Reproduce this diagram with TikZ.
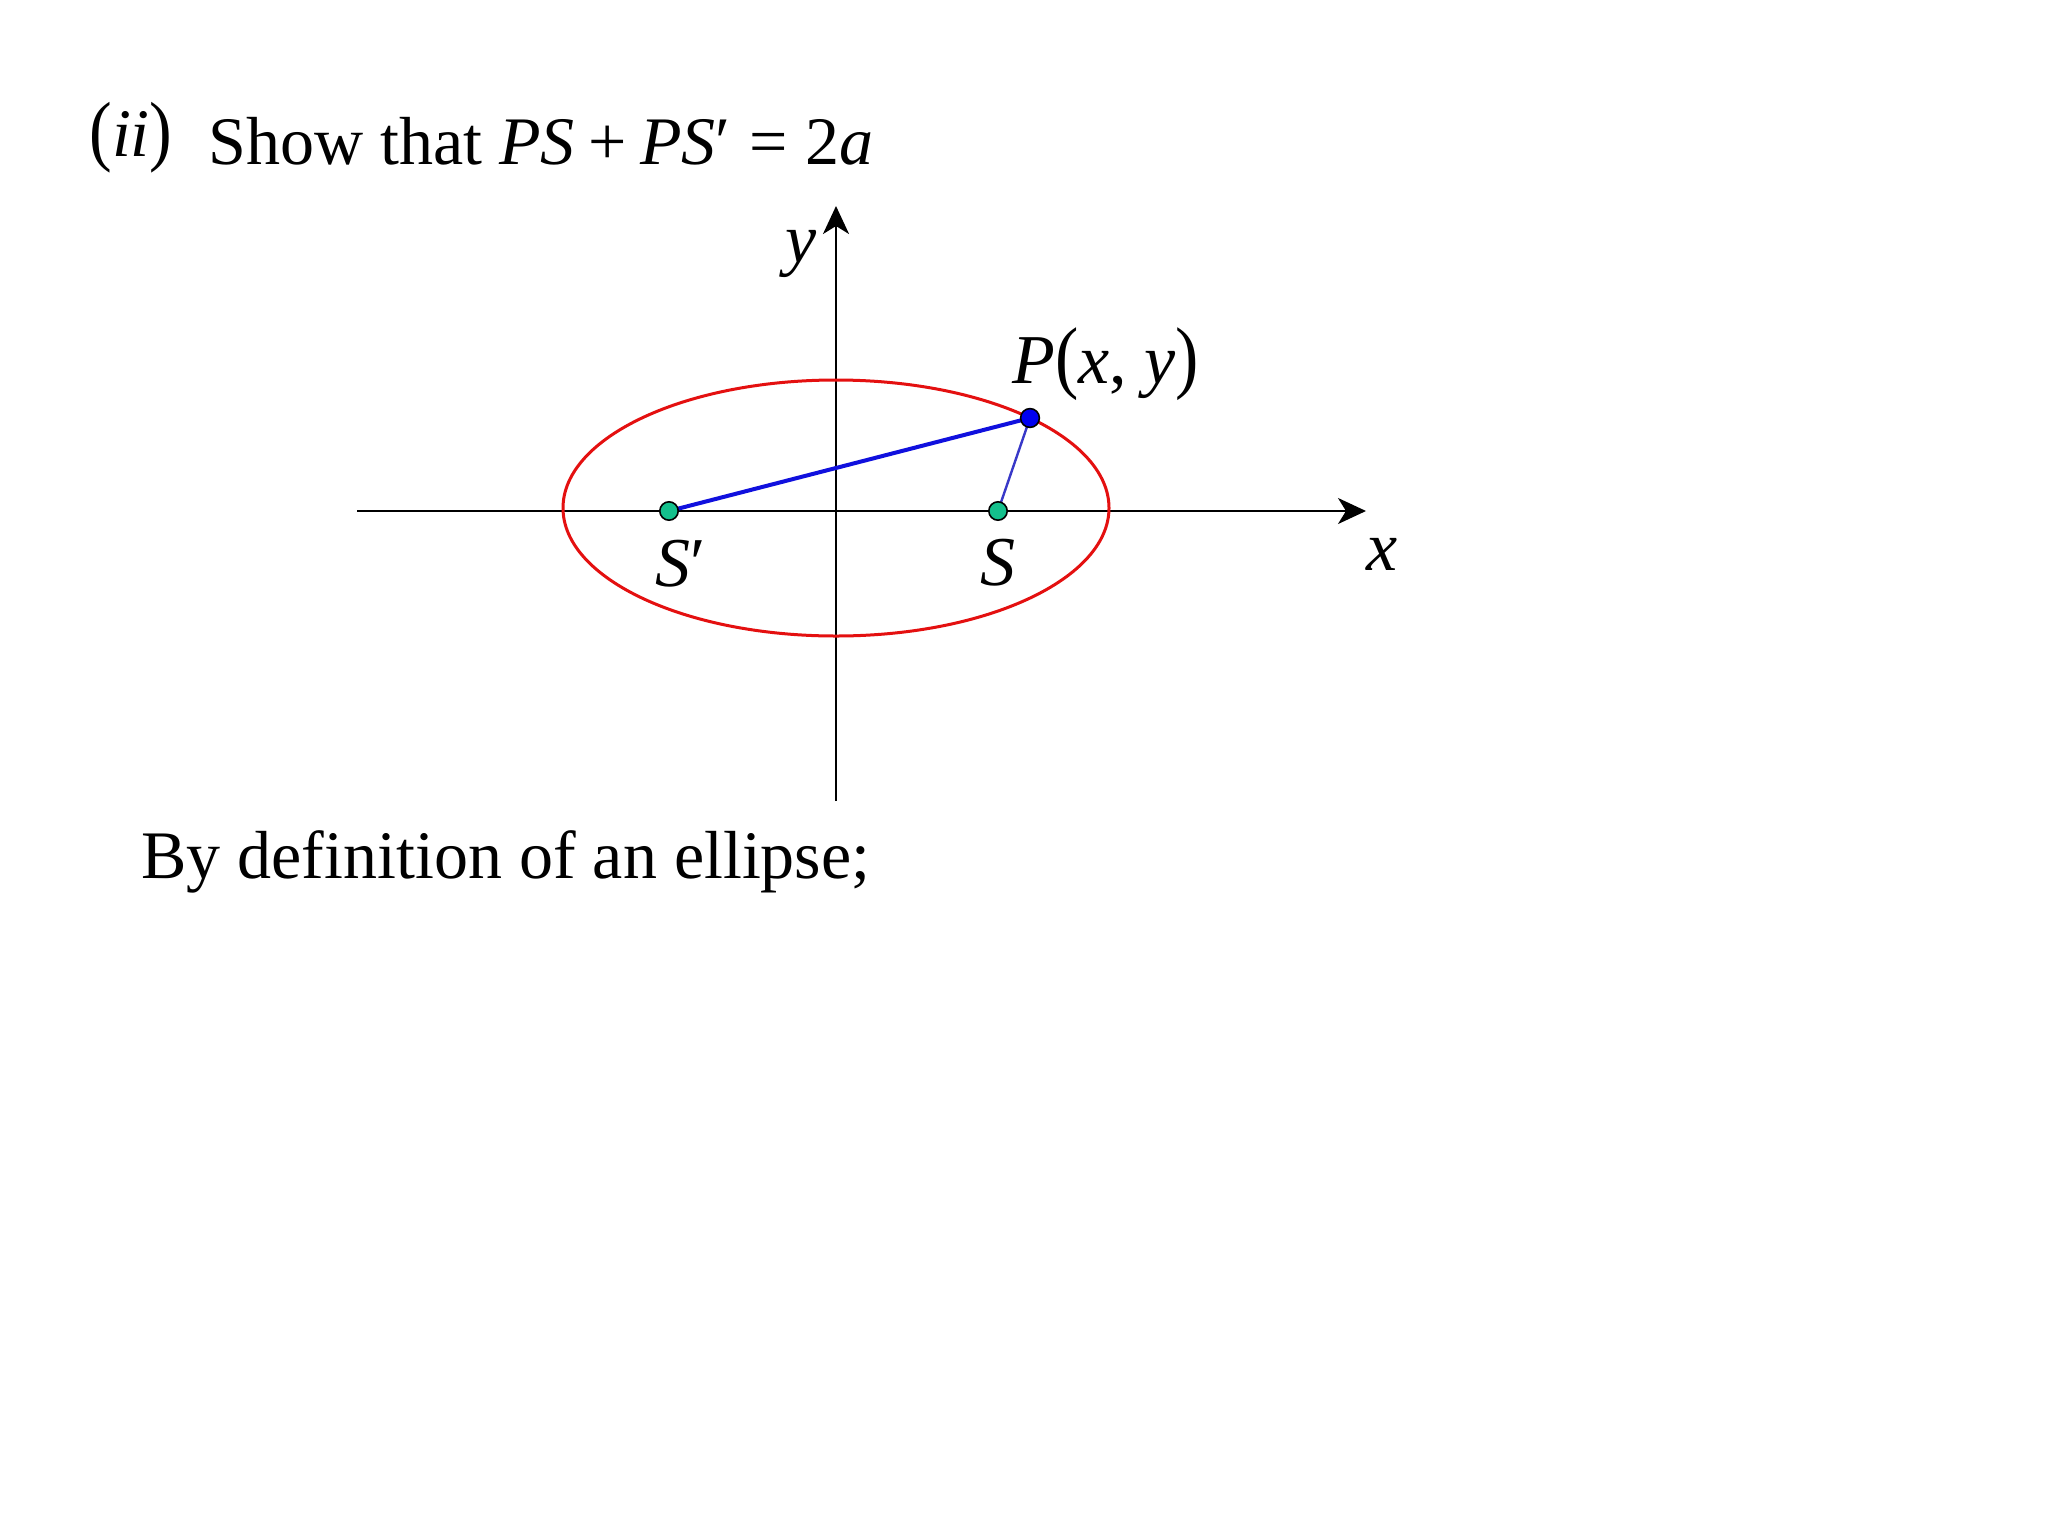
\documentclass[tikz,border=0pt]{standalone}
\usepackage{fontspec}
\usepackage{graphicx}
\setmainfont{Liberation Serif}
\usetikzlibrary{arrows.meta}
\definecolor{ellred}{RGB}{228,16,16}
\definecolor{segblue}{RGB}{16,16,222}
\definecolor{segbluetwo}{RGB}{56,56,200}
\definecolor{focgreen}{RGB}{20,192,140}
\definecolor{pblue}{RGB}{0,0,240}
\newcommand{\tallpar}[1]{\scalebox{1}[1.15]{#1}}
\begin{document}
\begin{tikzpicture}[x=0.5pt,y=-0.5pt,
  axisline/.style={line width=1.1pt,-{Stealth[length=14pt,width=13pt,inset=4pt]}},
  bigtext/.style={font=\fontsize{34pt}{40pt}\selectfont,inner sep=0pt,anchor=base west},
  lbl/.style={font=\fontsize{35pt}{40pt}\selectfont,inner sep=0pt,anchor=base},
  focus/.style={circle,draw=black,line width=0.8pt,fill=focgreen,minimum size=9.2pt,inner sep=0pt},
  pdot/.style={circle,draw=black,line width=0.8pt,fill=pblue,minimum size=9.4pt,inner sep=0pt}]
\useasboundingbox (0,0) rectangle (2048,1536);
\fill[white] (0,0) rectangle (2048,1536);
% title
\node[bigtext] (num) at (89,156) {\tallpar{(}\textit{ii}\tallpar{)}};
\node[bigtext] (title) at (208,164) {Show that \textit{PS}\hspace{0.2em}+\hspace{0.2em}\textit{PS}′\hspace{0.27em}=\hspace{0.27em}2\textit{a}};
% axes
\coordinate (xl) at (357,511);
\coordinate (xr) at (1366,511);
\coordinate (yb) at (836,801);
\coordinate (yt) at (836,206);
\draw[axisline] (xl) -- (xr);
\draw[axisline] (yb) -- (yt);
% ellipse
\draw[ellred,line width=1.5pt] (836,508) ellipse [x radius=273, y radius=128];
% points
\coordinate (Sp) at (669,511);
\coordinate (S) at (998,511);
\coordinate (P) at (1030,418);
\draw[segblue,line width=2pt] (Sp) -- (P);
\draw[segbluetwo,line width=1.2pt] (S) -- (P);
\node[focus] (Spdot) at (Sp) {};
\node[focus] (Sdot) at (S) {};
\node[pdot] (Pdot) at (P) {};
% labels
\node[lbl] (xlab) at (1382,570) {\textit{x}};
\node[lbl] (ylab) at (801,262) {\textit{y}};
\node[lbl] (Splab) at (681,586) {\textit{S}′};
\node[lbl] (Slab) at (998,585) {\textit{S}};
\node[lbl,anchor=base west] (Plab) at (1012,383) {\textit{P}\tallpar{(}\textit{x}, \textit{y}\tallpar{)}};
% text
\node[bigtext] (defn) at (141,878) {By definition of an ellipse;};
\end{tikzpicture}
\end{document}
